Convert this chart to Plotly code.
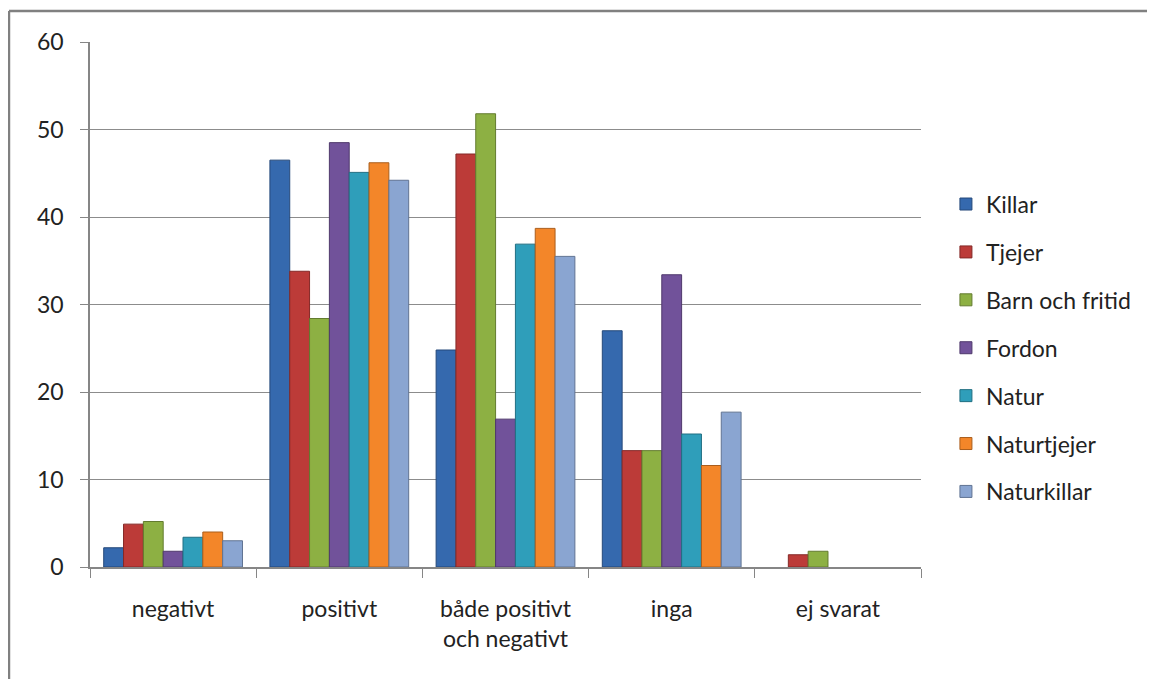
import plotly.graph_objects as go

categories = ["negativt", "positivt", "både positivt<br>och negativt", "inga", "ej svarat"]
series_names = ["Killar", "Tjejer", "Barn och fritid", "Fordon", "Natur", "Naturtjejer", "Naturkillar"]
killar = [2.2, 46.5, 24.8, 27.0, 0]
tjejer = [4.9, 33.8, 47.2, 13.3, 1.4]
barn_och_fritid = [5.2, 28.4, 51.8, 13.3, 1.8]
fordon = [1.8, 48.5, 16.9, 33.4, 0]
natur = [3.4, 45.1, 36.9, 15.2, 0]
naturtjejer = [4.0, 46.2, 38.7, 11.6, 0]
naturkillar = [3.0, 44.2, 35.5, 17.7, 0]
series_values = [killar, tjejer, barn_och_fritid, fordon, natur, naturtjejer, naturkillar]
colors = ["#3569AE", "#BC3B38", "#8DB043", "#71529A", "#2F9EBA", "#F38629", "#8AA5D1"]
edge_colors = ["#25497A", "#842927", "#637B2F", "#4F396C", "#216F82", "#AA5E1D", "#607392"]
y_ticks = [0, 10, 20, 30, 40, 50, 60]

fig = go.Figure()
for name, vals, c, ec in zip(series_names, series_values, colors, edge_colors):
    fig.add_trace(go.Bar(
        name=name, x=categories, y=vals, legendgroup=name,
        marker=dict(color=c, line=dict(color=ec, width=[1 if v > 0 else 0 for v in vals])),
    ))

font = dict(family="Lato, Open Sans, sans-serif", size=23, color="#222222")
fig.update_layout(
    barmode="group", bargap=0.165, bargroupgap=0,
    width=1147, height=671,
    margin=dict(l=82, r=234, t=34, b=112),
    paper_bgcolor="white", plot_bgcolor="white",
    font=font,
    showlegend=True,
    legend=dict(x=1.03, y=0.417, yanchor="middle", xanchor="left",
                tracegroupgap=15, font=dict(size=23),
                itemwidth=30),
    xaxis=dict(type="category", showgrid=False, showline=True,
               linecolor="#868686", linewidth=1.5,
               ticks="outside", tickson="boundaries", ticklen=9,
               tickcolor="#868686", tickfont=font, ticklabelstandoff=21),
    yaxis=dict(range=[0, 60], tickvals=y_ticks, showgrid=True,
               gridcolor="#8c8c8c", gridwidth=1.2, showline=True,
               linecolor="#868686", linewidth=1.5,
               ticks="outside", ticklen=8, tickcolor="#868686",
               tickfont=font, ticklabelstandoff=12, zeroline=False),
    shapes=[
        dict(type="line", xref="paper", yref="paper",
             x0=-0.0975, y0=1.059, x1=1.6, y1=1.059,
             line=dict(color="#808080", width=2.5), layer="below"),
        dict(type="line", xref="paper", yref="paper",
             x0=-0.0975, y0=1.059, x1=-0.0975, y1=-0.6,
             line=dict(color="#808080", width=2.5), layer="below"),
    ],
)

fig.write_html("out.html")
